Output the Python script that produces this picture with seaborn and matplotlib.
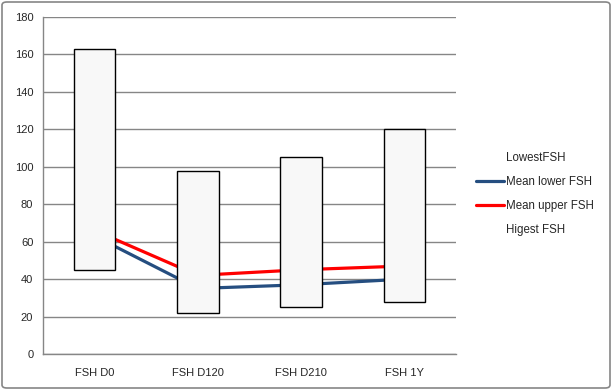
import numpy as np
import pandas as pd
import seaborn as sns
import matplotlib.pyplot as plt
from matplotlib.lines import Line2D
from matplotlib.patches import FancyBboxPatch

categories = ['FSH D0', 'FSH D120', 'FSH D210', 'FSH 1Y']
lowest_fsh = [45, 22, 25, 28]
highest_fsh = [163, 98, 105, 120]
mean_lower = [63, 35, 37, 40]
mean_upper = [66, 42, 45, 47]

sns.set_theme(style="white")
plt.rcParams['font.family'] = ['Liberation Sans', 'DejaVu Sans']

df = pd.DataFrame({
    'pos': list(range(len(categories))) * 2,
    'value': mean_lower + mean_upper,
    'series': ['Mean lower FSH'] * 4 + ['Mean upper FSH'] * 4,
})
colors = {'Mean lower FSH': '#254E80', 'Mean upper FSH': '#FF0000'}

fig = plt.figure(figsize=(6.12, 3.9), dpi=100)
ax = fig.add_axes([43 / 612, 1 - 354 / 390, (456 - 43) / 612, (354 - 17) / 390])

sns.lineplot(data=df, x='pos', y='value', hue='series', palette=colors,
             linewidth=2.3, legend=False, ax=ax, zorder=2)

x = np.arange(len(categories))
ax.bar(x, np.array(highest_fsh) - np.array(lowest_fsh), bottom=lowest_fsh,
       width=0.4, color='#F8F8F8', edgecolor='black', linewidth=1.0, zorder=3)

ax.set_xlim(-0.5, 3.5)
ax.set_ylim(0, 180)
ax.set_yticks(range(0, 181, 20))
ax.set_xticks(x)
ax.set_xticklabels(categories)
ax.set_xticks(np.arange(-0.5, 4, 1), minor=True)
ax.tick_params(axis='x', which='major', length=0, pad=10, labelsize=8)
ax.tick_params(axis='x', which='minor', length=4, color='#868686', width=1, direction='out')
ax.tick_params(axis='y', length=4, color='#868686', width=1, direction='out', labelsize=8, pad=3)
ax.set_xlabel('')
ax.set_ylabel('')
ax.yaxis.grid(True, color='#868686', linewidth=1)
ax.set_axisbelow(True)
for s in ['top', 'right']:
    ax.spines[s].set_visible(False)
for s in ['left', 'bottom']:
    ax.spines[s].set_color('#868686')
    ax.spines[s].set_linewidth(1)

handles = [
    Line2D([], [], color='none', label='LowestFSH'),
    Line2D([], [], color=colors['Mean lower FSH'], linewidth=2.3, label='Mean lower FSH'),
    Line2D([], [], color=colors['Mean upper FSH'], linewidth=2.3, label='Mean upper FSH'),
    Line2D([], [], color='none', label='Higest FSH'),
]
fig.legend(handles=handles, loc='center left', bbox_to_anchor=(466 / 612, 1 - 194 / 390),
           frameon=False, fontsize=8.3, handlelength=2.4, handletextpad=0.15,
           labelspacing=1.05)

border = FancyBboxPatch((2 / 612, 2 / 390), 608 / 612, 386 / 390,
                        boxstyle='round,pad=0,rounding_size=0.008',
                        transform=fig.transFigure, facecolor='none',
                        edgecolor='#868686', linewidth=1.2)
fig.patches.append(border)

fig.savefig('out.png', dpi=100)
